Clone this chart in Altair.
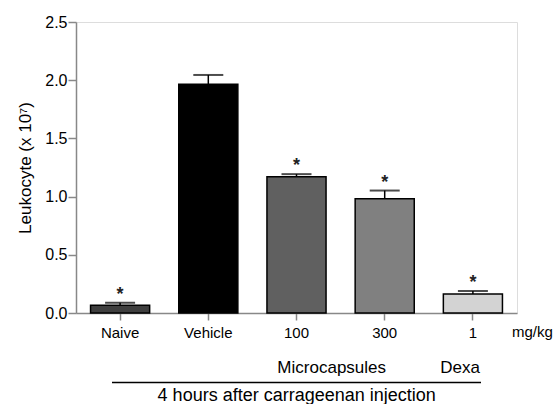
import altair as alt
import pandas as pd

groups = ["Naive", "Vehicle", "100", "300", "1"]
values = [0.066, 1.965, 1.170, 0.982, 0.163]
errors = [0.022, 0.080, 0.023, 0.070, 0.026]
colors = ["#3f3f3f", "#000000", "#606060", "#808080", "#d3d3d3"]
stars = ["*", "", "*", "*", "*"]

df = pd.DataFrame({
    "group": groups,
    "value": values,
    "upper": [v + e for v, e in zip(values, errors)],
    "color": colors,
    "star": stars,
})

FONT = "Liberation Sans"

x = alt.X("group:N", sort=groups,
          scale=alt.Scale(paddingInner=0.33, paddingOuter=0.165),
          axis=alt.Axis(title=None, labelAngle=0, labelFontSize=15, tickSize=7,
                        labelPadding=5, domainWidth=1.5, tickWidth=1.5))
y = alt.Y("value:Q", scale=alt.Scale(domain=[0, 2.5], nice=False),
          axis=alt.Axis(title="Leukocyte (x 10⁷)", values=[0, 0.5, 1.0, 1.5, 2.0, 2.5],
                        format=".1f", grid=False, labelFontSize=16, tickSize=8,
                        labelPadding=1, titleFontSize=17, titleFontWeight="normal",
                        titlePadding=10, domainWidth=1.5, tickWidth=1.5))

base = alt.Chart(df)

bars = base.mark_bar(stroke="black", strokeWidth=1.5).encode(
    x=x, y=y, color=alt.Color("color:N", scale=None))

stem = base.mark_rule(color="black", strokeWidth=1.5).encode(
    x=alt.X("group:N", sort=groups), y="value:Q", y2="upper:Q")

cap = base.mark_tick(color="black", size=30, thickness=2).encode(
    x=alt.X("group:N", sort=groups), y="upper:Q")

star = base.mark_text(fontSize=18, font=FONT, baseline="alphabetic", dy=-3,
                      fontWeight="bold", color="#222").encode(
    x=alt.X("group:N", sort=groups), y="upper:Q", text="star:N")

group_labels = pd.DataFrame({"t": ["Microcapsules"]})
dexa_label = pd.DataFrame({"t": ["Dexa"]})
unit_label = pd.DataFrame({"t": ["mg/kg"]})
bottom_label = pd.DataFrame({"t": ["4 hours after carrageenan injection"]})

micro = alt.Chart(group_labels).mark_text(fontSize=17, font=FONT, align="center",
                                          baseline="alphabetic").encode(
    x=alt.value(255.7), y=alt.value(350.5), text="t:N")
dexa = alt.Chart(dexa_label).mark_text(fontSize=17, font=FONT, align="center",
                                       baseline="alphabetic").encode(
    x=alt.value(384), y=alt.value(350.5), text="t:N")
unit = alt.Chart(unit_label).mark_text(fontSize=15, font=FONT, align="left",
                                       baseline="alphabetic").encode(
    x=alt.value(436), y=alt.value(314.7), text="t:N")
line = alt.Chart(bottom_label).mark_rule(color="black", strokeWidth=1.5).encode(
    x=alt.value(36), x2=alt.value(405), y=alt.value(360.5))
bottom = alt.Chart(bottom_label).mark_text(fontSize=18, font=FONT, align="center",
                                           baseline="alphabetic").encode(
    x=alt.value(220.7), y=alt.value(379), text="t:N")

chart = alt.layer(bars, stem, cap, star, micro, dexa, unit, line, bottom).properties(
    width=441, height=291,
    autosize=alt.AutoSizeParams(type="none"),
    padding={"left": 76, "top": 22, "right": 38, "bottom": 91},
).configure_view(stroke=None).configure_axis(
    labelFont=FONT, titleFont=FONT, labelColor="black", titleColor="black",
    domainColor="black", tickColor="black",
).configure(background="white")

chart.save("out.html", embed_options={"renderer": "svg", "actions": False})
